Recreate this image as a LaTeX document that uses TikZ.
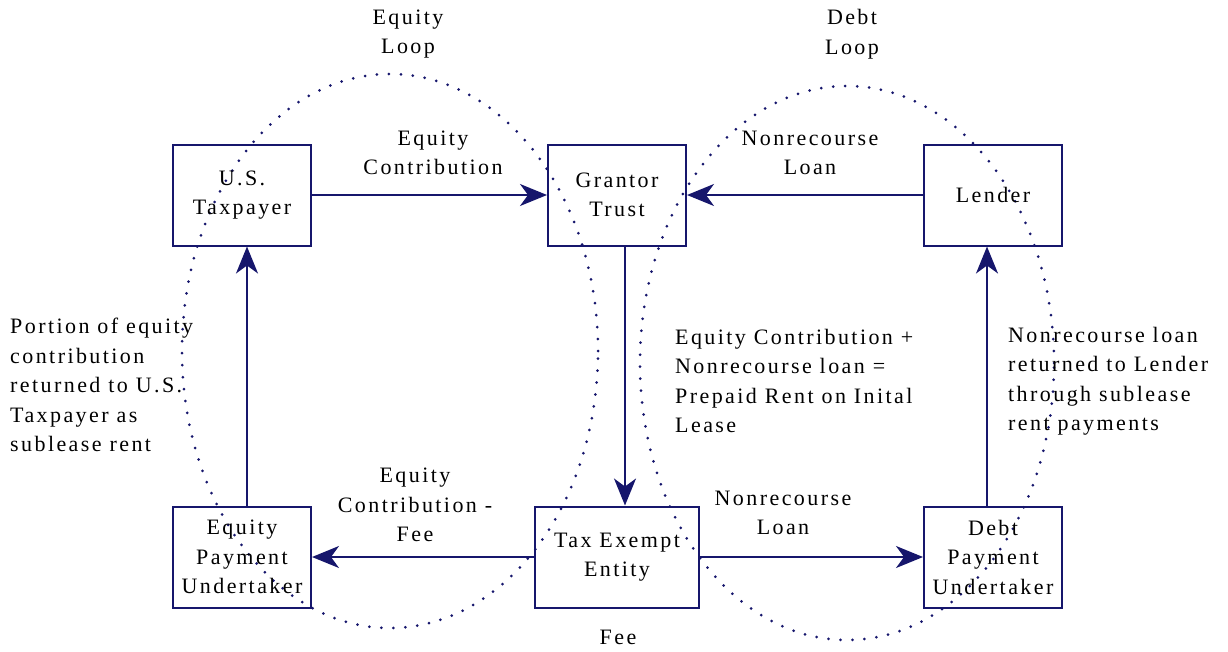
\documentclass[tikz,border=0pt]{standalone}
\usepackage{fontspec}
\setmainfont{Liberation Serif}[LetterSpace=11]
\usepackage{xcolor}
\usetikzlibrary{arrows.meta}
\definecolor{navy}{RGB}{22,22,108}

\begin{document}
\begin{tikzpicture}[x=1pt,y=-1pt,font=\fontsize{22pt}{29.5pt}\selectfont]
    \def\xa{242}
    \def\xb{617}
    \def\xc{993}
    \def\ya{195}
    \def\yb{557}

    \tikzstyle{box}=[line width=2pt,draw=navy,minimum width=138pt,minimum height=101pt,align=center,inner sep=0pt]
    \tikzstyle{wbox}=[box,minimum width=164pt]
    \tikzstyle{label}=[align=center,inner sep=0pt]
    \tikzstyle{note}=[align=left,anchor=west,inner sep=0pt]
    \tikzstyle{loopline}=[draw=navy,line width=3pt,line cap=round,dash pattern=on 0pt off 12pt]

    \useasboundingbox (0,0) rectangle (1228,651);

    % loops
    \draw [loopline] (390,351) ellipse [x radius=208pt, y radius=277pt];
    \draw [loopline] (847,363) ellipse [x radius=207pt, y radius=277pt];

    \node[label]  (el) at (408,34) {Equity\\Loop};
    \node[label]  (dl) at (852,34) {Debt\\Loop};

    \node[box]  (tp) at (\xa,\ya) {U.S.\\Taxpayer};
    \node[box]  (gt) at (\xb,\ya) {Grantor\\Trust};
    \node[box]  (ld) at (\xc,\ya) {Lender};
    \node[box]  (ep) at (\xa,\yb) {Equity\\Payment\\Undertaker};
    \node[wbox] (te) at (\xb,\yb) {Tax Exempt\\Entity};
    \node[box]  (dp) at (\xc,\yb) {Debt\\Payment\\Undertaker};

    \node[label]  (ec) at (433,153) {Equity\\Contribution};
    \node[label]  (nl) at (810,153) {Nonrecourse\\Loan};
    \node[label]  (ef) at (415,505) {Equity\\Contribution -\\Fee};
    \node[label]  (nb) at (783,513) {Nonrecourse\\Loan};
    \node[label]  (fe) at (618,637) {Fee};

    \node[note]  (pr) at (10,385) {Portion of equity\\contribution\\returned to U.S.\\Taxpayer as\\sublease rent};
    \node[note]  (pp) at (675,381) {Equity Contribution +\\Nonrecourse loan =\\Prepaid Rent on Inital\\Lease};
    \node[note]  (rl) at (1008,381) {Nonrecourse loan\\returned to Lender\\through sublease\\rent payments};

    \pgfsetarrowsend{Stealth[length=27pt,width=22pt,inset=8pt]}
    \tikzstyle{fwd} = [draw=navy, line width=2pt]

    \draw [fwd] (tp) -- (gt);
    \draw [fwd] (ld) -- (gt);
    \draw [fwd] ([xshift=8pt]gt.south) -- ([xshift=8pt]te.north);
    \draw [fwd] ([xshift=5pt]ep.north) -- ([xshift=5pt]tp.south);
    \draw [fwd] ([xshift=-6pt]dp.north) -- ([xshift=-6pt]ld.south);
    \draw [fwd] (te) -- (ep);
    \draw [fwd] (te) -- (dp);

\end{tikzpicture}
\end{document}
